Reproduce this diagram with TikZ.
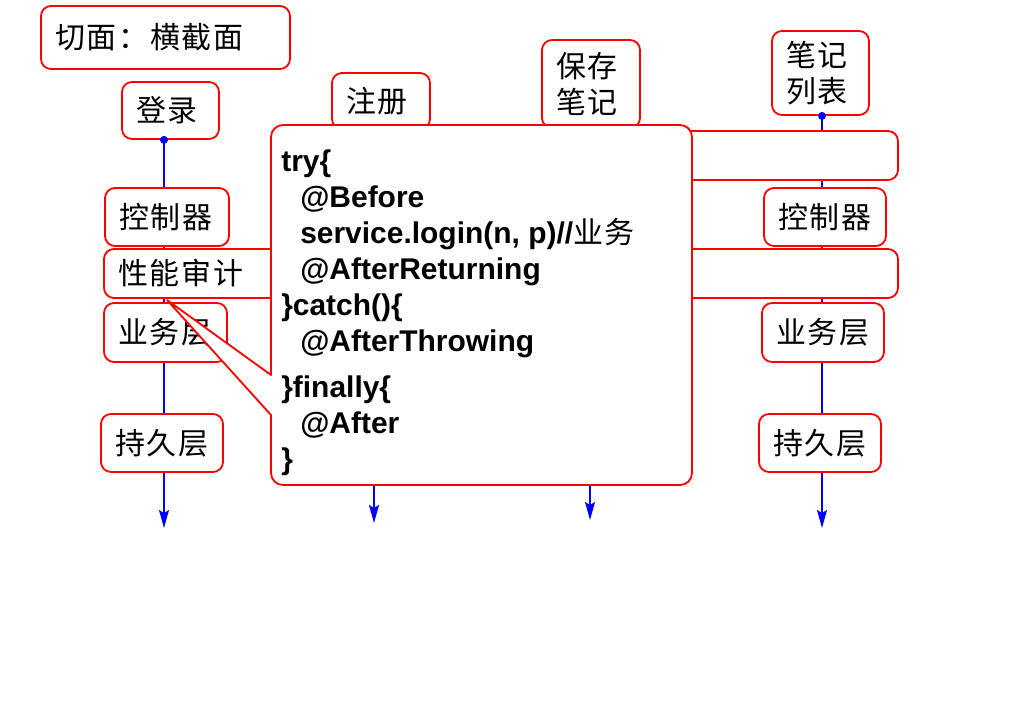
\documentclass[tikz,border=0pt]{standalone}
\usepackage{fontspec}
\setmainfont{Liberation Sans}
\newfontfamily\cjk[LetterSpace=6]{Noto Sans CJK SC}
\usetikzlibrary{arrows.meta,backgrounds}
\newlength\pxu
\setlength\pxu{0.025cm}

\begin{document}
\begin{tikzpicture}
[ x=0.025cm, y=-0.025cm, line join=round
, point/.style={coordinate}
, box/.style={rectangle, draw=red, fill=white, line width=1.3pt, rounded corners=10\pxu, inner xsep=14\pxu, inner ysep=0pt, align=left, font=\cjk\fontsize{21.3pt}{25.6pt}\selectfont}
, band/.style={box, text width=766\pxu, minimum height=49\pxu}
, flow/.style={draw=blue, line width=1.2pt, -{Stealth[length=0.45cm, width=0.25cm, inset=0.075cm]}}
, dot/.style={circle, fill=blue, inner sep=0pt, minimum size=8\pxu}
, callout/.style={draw=red, fill=white, line width=1.3pt}
, code/.style={anchor=north west, align=left, inner sep=0pt, font=\bfseries\fontsize{21.3pt}{25.6pt}\selectfont}
]
\useasboundingbox (0,0) rectangle (1024,728);

% Title and the four requests:
\node (cut) [box, text width=221\pxu, minimum height=63\pxu] at (165.5,37.5) {切面：横截面};
\node (login) [box, text width=69\pxu, minimum height=57\pxu] at (170.5,110.5) {登录};
\node (reg) [box, text width=70\pxu, minimum height=56\pxu] at (381,101) {注册};
\node (save) [box, text width=70\pxu, minimum height=88\pxu] at (591,84) {保存\\笔记};
\node (list) [box, text width=69\pxu, minimum height=84\pxu] at (820.5,73) {笔记\\列表};

% Cross-cutting bands:
\node (upper) [box, text width=310\pxu, minimum height=49\pxu] at (729,155.5) {};
\node (audit) [band] at (501,273.5) {性能审计};

% Layers, left column:
\node (ctrlL) [box, text width=96\pxu, minimum height=58\pxu] at (167,217) {控制器};
\node (svcL) [box, text width=95\pxu, minimum height=59\pxu] at (165.5,332.5) {业务层};
\node (daoL) [box, text width=94\pxu, minimum height=58\pxu] at (162,443) {持久层};

% Layers, right column:
\node (ctrlR) [box, text width=94\pxu, minimum height=58\pxu] at (825,217) {控制器};
\node (svcR) [box, text width=94\pxu, minimum height=59\pxu] at (823,332.5) {业务层};
\node (daoR) [box, text width=94\pxu, minimum height=58\pxu] at (820,443) {持久层};

% Ends of the flows:
\node (end1) [point] at (164,528) {};
\node (end2) [point] at (374,523) {};
\node (end3) [point] at (590,520) {};
\node (end4) [point] at (822,528) {};
\node (tip) [point] at (167,300) {};

\begin{scope}[on background layer]
\draw [flow] (login.south -| end1) -- (end1);
\draw [flow] (reg.south -| end2) -- (end2);
\draw [flow] (save.south -| end3) -- (end3);
\draw [flow] (list.south -| end4) -- (end4);
\end{scope}

% The callout with the advice:
\draw [callout] (271,445) [rounded corners=12\pxu] -- (271,485) -- (692,485) -- (692,125) -- (271,125)
  [sharp corners] -- (271,375) -- (tip) -- (271,415) -- cycle;
\node (code) [code] at (281,150) {try\{\\
\hspace*{19\pxu}@Before\\
\hspace*{19\pxu}service.login(n, p)//{\cjk\mdseries 业务}\\
\hspace*{19\pxu}@AfterReturning\\
\}catch()\{\\
\hspace*{19\pxu}@AfterThrowing\\[10\pxu]
\}finally\{\\
\hspace*{19\pxu}@After\\
\}};

\node (dot1) [dot] at (login.south -| end1) {};
\node (dot4) [dot] at (list.south -| end4) {};
\end{tikzpicture}
\end{document}
